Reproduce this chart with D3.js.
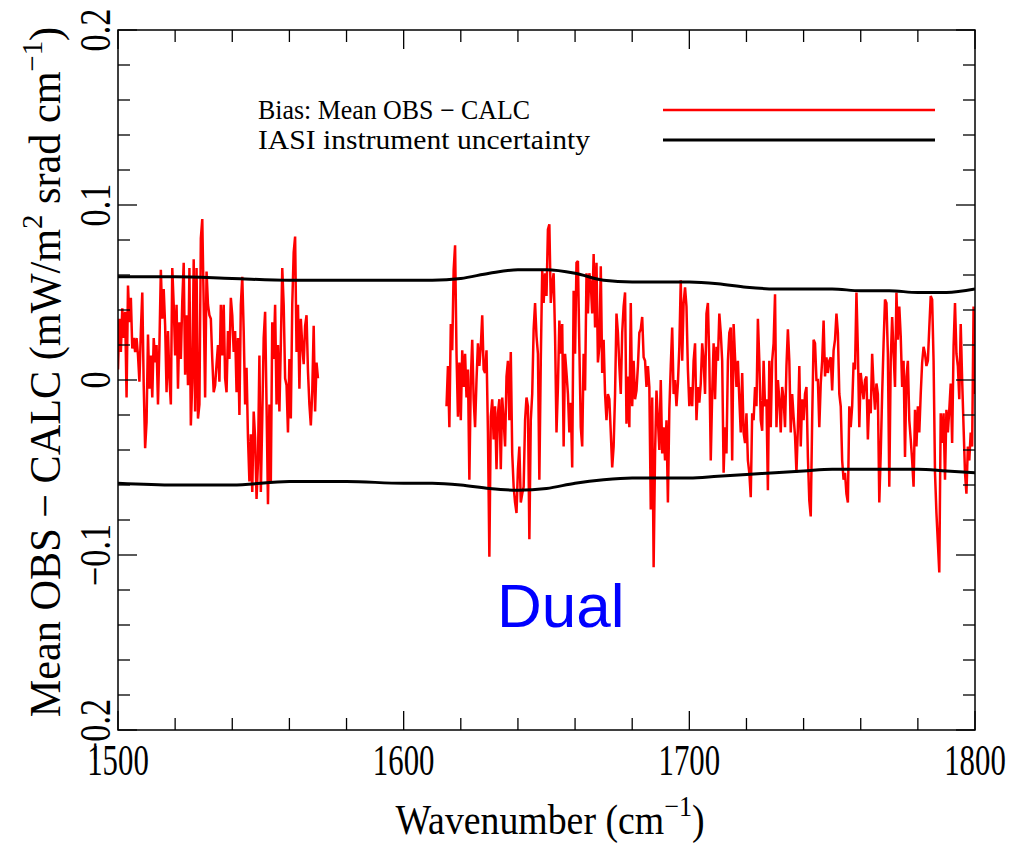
<!DOCTYPE html>
<html>
<head>
<meta charset="utf-8">
<script src="https://cdn.jsdelivr.net/npm/d3@7"></script>
<style>
  html, body { margin: 0; padding: 0; background: #ffffff; }
  svg { display: block; }
</style>
</head>
<body>
<div id="chart"></div>
<script>
// ---------- data ----------
// Bias (Mean OBS - CALC), first band, 1500 -> 1570 cm-1, 0.5 cm-1 sampling
const biasAStart = 1500;
const biasAStep = 0.5;
const biasA = [
  0.006, 0.035, 0.016, 0.041, 0.024, 0.039, -0.010, 0.054, 0.033, 0.047,
  0.018, 0.024, 0.016, 0.024, 0.014, -0.001, 0.028, 0.050, -0.003, -0.039,
  -0.024, 0.026, -0.005, 0.014, -0.010, 0.024, 0.010, 0.020, -0.014, 0.020,
  0.063, 0.035, 0.052, 0.031, -0.007, 0.028, 0.001, -0.014, 0.064, 0.043,
  0.014, 0.043, -0.005, 0.033, 0.012, 0.045, 0.067, 0.003, 0.037, -0.003,
  0.064, -0.026, -0.001, 0.069, -0.018, 0.064, -0.022, -0.014, 0.081, 0.092,
  0.043, -0.010, 0.062, 0.043, 0.037, 0.035, 0.012, -0.007, -0.003, 0.009,
  0.020, -0.001, 0.043,
  0.014, 0.043, 0.001, -0.007, 0.028, 0.012, 0.047, 0.037,
  0.016, 0.028, -0.007, 0.024, -0.020, 0.043, 0.059, 0.028,
  -0.014, 0.007, -0.033, -0.058, -0.031, -0.064, -0.018, -0.033,
  -0.068, -0.047, 0.014, -0.064, -0.022, 0.024, 0.039, -0.014,
  -0.071, -0.014, -0.058, 0.033, 0.012, 0.043, -0.014, 0.020,
  -0.018, 0.020, 0.064, 0.043, 0.001, -0.003, -0.030, 0.012,
  -0.022, 0.043, 0.073, 0.082, 0.016, 0.043, -0.005, 0.035,
  0.020, 0.009, 0.031, 0.037, 0.005, -0.014, -0.026, -0.007,
  0.031, -0.018, 0.010, 0.001
];
// Bias, second band, 1615 -> 1800 cm-1, 0.5 cm-1 sampling
const biasBStart = 1615;
const biasBStep = 0.5;
const biasB = [
  -0.015, 0.008, -0.027, 0.032, 0.017, 0.063, 0.077, 0.015, -0.021, 0.010,
  -0.023, 0.017, -0.004, 0.015, -0.010, 0.006, -0.057, 0.000, 0.023, -0.011,
  -0.027, 0.000, 0.021, 0.008, 0.019, 0.037, 0.006, 0.004, 0.017, -0.030,
  -0.101, -0.021, -0.011, -0.034, -0.015, -0.051, -0.019, -0.011, -0.051, -0.010,
  -0.023, -0.038, 0.002, 0.011, -0.023, 0.016, -0.042, -0.061, -0.070, -0.076,
  -0.051, -0.038, -0.070, -0.065, -0.061, -0.023, -0.010, -0.015, -0.091, -0.023,
  -0.008, 0.029, 0.044, 0.025, 0.015, -0.057, 0.011, 0.063, 0.044, 0.061,
  0.048, 0.086, 0.089, 0.044, 0.055, 0.061, 0.025, -0.030, -0.004, 0.034,
  0.015, 0.032, -0.038, 0.015, 0.004, -0.008, -0.030, -0.013, -0.050, 0.051,
  0.015, 0.067, 0.068, 0.019, -0.027, -0.038, 0.015, -0.006, 0.061, 0.038,
  0.061, 0.055, 0.038, 0.072, 0.030, 0.067, 0.010, 0.019, 0.065, 0.004,
  0.023, -0.008, -0.023, -0.008, -0.011, -0.030, -0.050, -0.038, -0.008, 0.038,
  0.027, 0.008, -0.008, 0.027, 0.042, 0.050, -0.025, 0.002, -0.027, 0.044,
  -0.015, 0.011, -0.011, -0.006, 0.008, 0.027, 0.029, 0.036, 0.013, 0.011,
  -0.004, 0.008, -0.004, -0.074, -0.010, -0.107, -0.042, -0.006, -0.023, -0.040,
  0.000, -0.042, -0.027, -0.046, -0.023, -0.070, -0.017, 0.008, 0.030, -0.008,
  0.000, -0.015, -0.002, 0.019, 0.057, 0.011, 0.044, 0.053, 0.042, 0.006,
  -0.015, -0.004, -0.015, 0.011, 0.021, -0.023, -0.004, -0.013, -0.002, 0.021,
  0.011, -0.008, 0.038, 0.044, 0.011, -0.046, -0.008, 0.021, -0.011, 0.019,
  0.011, 0.038, 0.027, 0.011, -0.053, -0.027, -0.042, 0.011, 0.027, 0.030,
  -0.046, 0.032, 0.013, -0.004, 0.011, -0.011, -0.030, 0.004, -0.030, -0.036,
  -0.019, -0.046, -0.053, -0.067, -0.019, -0.023, -0.004, -0.015, 0.035, 0.011,
  -0.023, -0.029, 0.011, -0.015, -0.011, -0.063, 0.011, -0.027, 0.011, 0.021,
  0.049, -0.027, 0.000, -0.011, -0.030, -0.004, -0.011, -0.027, 0.008, 0.029,
  0.011, -0.030, -0.008, -0.021, -0.032, -0.053, -0.027, 0.008, -0.038, -0.011,
  -0.023, -0.008, -0.004, -0.044, -0.069, -0.078, -0.023, 0.023, 0.021, 0.000,
  0.000, -0.027, -0.002, 0.011, 0.034, 0.002, 0.013, 0.004, 0.011, 0.013,
  -0.006, 0.017, 0.023, 0.038, 0.027, -0.008, -0.015, -0.046, -0.057, -0.053,
  -0.065, -0.070, -0.015, -0.027, -0.015, 0.010, 0.006, 0.050, 0.017, -0.027,
  0.004, -0.004, -0.011, 0.000, 0.002, -0.034, -0.011, -0.019, 0.015, -0.004,
  -0.017, -0.002, -0.008, -0.070, -0.042, -0.008, 0.021, 0.046, 0.044, 0.015,
  -0.061, 0.011, 0.036, 0.015, -0.004, 0.050, 0.023, 0.042, 0.025, -0.004,
  0.011, -0.044, 0.002, 0.011, -0.023, -0.034, -0.046, -0.061, -0.017, -0.038,
  -0.015, -0.030, -0.008, 0.010, 0.019, 0.015, 0.008, 0.011, 0.030, 0.048,
  0.046, 0.011, -0.053, -0.076, -0.093, -0.110, -0.019, -0.036, -0.019, -0.057,
  -0.017, -0.030, -0.017, -0.002, -0.036, 0.019, 0.044, 0.015, 0.008, -0.011,
  0.032, 0.000, -0.027, -0.053, -0.065, -0.038, -0.046, -0.030, -0.038, 0.042,
  -0.008
];
// IASI instrument uncertainty (upper and lower envelopes)
const uncWavenumber = [1500, 1520, 1540, 1560, 1580, 1600, 1610, 1620, 1630, 1640, 1650, 1660, 1670,
                       1680, 1690, 1700, 1710, 1720, 1730, 1740, 1750, 1760, 1770, 1780, 1790, 1800];
const uncUpper = [0.059, 0.059, 0.058, 0.057, 0.057, 0.057, 0.057, 0.058, 0.061, 0.063, 0.063, 0.061, 0.057,
                  0.056, 0.056, 0.056, 0.055, 0.053, 0.052, 0.052, 0.052, 0.051, 0.051, 0.050, 0.050, 0.052];
const uncLower = [-0.059, -0.060, -0.060, -0.058, -0.058, -0.059, -0.059, -0.060, -0.062, -0.063, -0.062, -0.059, -0.057,
                  -0.056, -0.056, -0.056, -0.055, -0.054, -0.053, -0.052, -0.051, -0.051, -0.051, -0.051, -0.052, -0.053];

const xTickLabels = [1500, 1600, 1700, 1800];
const yTickLabels = [-0.2, -0.1, 0, 0.1, 0.2];
const legendLabels = ["Bias: Mean OBS \u2212 CALC", "IASI instrument uncertainty"];
const annotation = "Dual";

(function draw() {
  // ---------- layout ----------
  const W = 1027, H = 846;
  const pL = 118, pR = 975, pT = 30, pB = 730;
  const serif = "'Liberation Serif', 'DejaVu Serif', serif";

  const svg = d3.select("#chart").append("svg")
    .attr("width", W).attr("height", H)
    .attr("viewBox", `0 0 ${W} ${H}`);

  const x = d3.scaleLinear().domain([1500, 1800]).range([pL, pR]);
  const y = d3.scaleLinear().domain([-0.2, 0.2]).range([pB, pT]);

  svg.append("defs").append("clipPath").attr("id", "plotclip")
    .append("rect").attr("x", pL).attr("y", pT)
    .attr("width", pR - pL).attr("height", pB - pT);

  // ---------- data lines ----------
  const segA = biasA.map((v, i) => ({ w: biasAStart + i * biasAStep, v }));
  const segB = biasB.map((v, i) => ({ w: biasBStart + i * biasBStep, v }));

  const biasLine = d3.line().x(d => x(d.w)).y(d => y(d.v));
  const plot = svg.append("g").attr("clip-path", "url(#plotclip)");

  [segA, segB].forEach(seg => {
    plot.append("path").datum(seg)
      .attr("d", biasLine)
      .attr("fill", "none")
      .attr("stroke", "#ff0000")
      .attr("stroke-width", 2.5)
      .attr("stroke-linejoin", "miter")
      .attr("stroke-miterlimit", 2);
  });

  const uncLine = (arr) => d3.line()
    .x((d, i) => x(uncWavenumber[i]))
    .y(d => y(d))
    .curve(d3.curveMonotoneX)(arr);

  [uncUpper, uncLower].forEach(arr => {
    plot.append("path")
      .attr("d", uncLine(arr))
      .attr("fill", "none")
      .attr("stroke", "#000")
      .attr("stroke-width", 3);
  });

  // ---------- frame & ticks ----------
  svg.append("rect")
    .attr("x", pL).attr("y", pT)
    .attr("width", pR - pL).attr("height", pB - pT)
    .attr("fill", "none").attr("stroke", "#000").attr("stroke-width", 1.5);

  const minorLen = 12, majorLen = 19;
  const xMinor = d3.range(1500, 1801, 20);
  const xMajor = d3.range(1500, 1801, 100);
  const yMinor = d3.range(-10, 11).map(k => k * 0.02);
  const yMajor = yTickLabels;

  const ticks = svg.append("g").attr("stroke", "#000").attr("stroke-width", 1.3);
  xMinor.forEach(v => {
    const isMajor = xMajor.some(m => Math.abs(m - v) < 1e-9);
    const L = isMajor ? majorLen : minorLen;
    ticks.append("line").attr("x1", x(v)).attr("x2", x(v)).attr("y1", pB).attr("y2", pB - L);
    ticks.append("line").attr("x1", x(v)).attr("x2", x(v)).attr("y1", pT).attr("y2", pT + L);
  });
  yMinor.forEach(v => {
    const isMajor = yMajor.some(m => Math.abs(m - v) < 1e-9);
    const L = isMajor ? majorLen : minorLen;
    ticks.append("line").attr("y1", y(v)).attr("y2", y(v)).attr("x1", pL).attr("x2", pL + L);
    ticks.append("line").attr("y1", y(v)).attr("y2", y(v)).attr("x1", pR).attr("x2", pR - L);
  });

  // ---------- tick labels ----------
  const fmtY = v => (v === 0 ? "0" : (v < 0 ? "\u2212" : "") + Math.abs(v).toFixed(1));

  xTickLabels.forEach(v => {
    svg.append("g")
      .attr("transform", `translate(${x(v)},775) scale(0.7,1)`)
      .append("text")
      .attr("text-anchor", "middle")
      .attr("font-family", serif).attr("font-size", 44)
      .attr("fill", "#000")
      .text(v);
  });

  yTickLabels.forEach(v => {
    svg.append("g")
      .attr("transform", `translate(110,${y(v)}) rotate(-90) scale(0.78,1)`)
      .append("text")
      .attr("text-anchor", "middle")
      .attr("font-family", serif).attr("font-size", 44)
      .attr("fill", "#000")
      .text(fmtY(v));
  });

  // ---------- axis titles ----------
  const xt = svg.append("g")
    .attr("transform", `translate(550,834) scale(0.9,1)`)
    .append("text")
    .attr("text-anchor", "middle")
    .attr("font-family", serif).attr("font-size", 42).attr("fill", "#000");
  xt.append("tspan").text("Wavenumber (cm");
  xt.append("tspan").attr("font-size", 29).attr("dy", -18).text("\u22121");
  xt.append("tspan").attr("dy", 18).text(")");

  const yt = svg.append("g")
    .attr("transform", `translate(60,372) rotate(-90) scale(0.96,1)`)
    .append("text")
    .attr("text-anchor", "middle")
    .attr("font-family", serif).attr("font-size", 44).attr("fill", "#000");
  yt.append("tspan").text("Mean OBS \u2212 CALC (mW/m");
  yt.append("tspan").attr("font-size", 30).attr("dy", -18).text("2");
  yt.append("tspan").attr("dy", 18).text(" srad cm");
  yt.append("tspan").attr("font-size", 30).attr("dy", -18).text("\u22121");
  yt.append("tspan").attr("dy", 18).text(")");

  // ---------- legend ----------
  const legendColors = ["#ff0000", "#000000"];
  const legendWidths = [272, 332];
  const legendStroke = [2.5, 3];
  legendLabels.forEach((lab, i) => {
    const ly = 110 + i * 30;
    svg.append("text")
      .attr("x", 258).attr("y", ly + 9)
      .attr("font-family", serif).attr("font-size", 27).attr("fill", "#000")
      .attr("textLength", legendWidths[i]).attr("lengthAdjust", "spacingAndGlyphs")
      .text(lab);
    svg.append("line")
      .attr("x1", 663).attr("x2", 935).attr("y1", ly).attr("y2", ly)
      .attr("stroke", legendColors[i]).attr("stroke-width", legendStroke[i]);
  });

  // ---------- annotation ----------
  svg.append("text")
    .attr("x", 497).attr("y", 627)
    .attr("font-family", "'Liberation Sans', Arial, sans-serif")
    .attr("font-size", 62).attr("fill", "#0000ff")
    .text(annotation);
})();
</script>
</body>
</html>
